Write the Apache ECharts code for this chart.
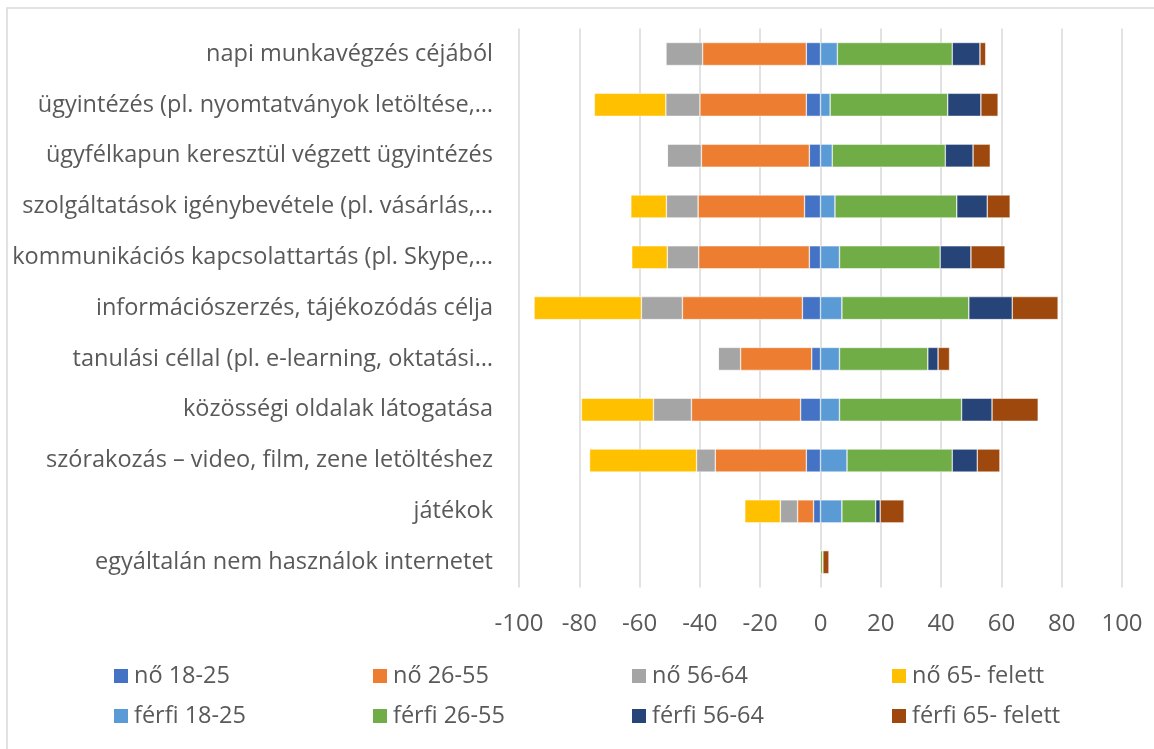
<!DOCTYPE html>
<html><head><meta charset="utf-8">
<script src="https://cdn.jsdelivr.net/npm/echarts@6/dist/echarts.min.js"></script>
<style>html,body{margin:0;padding:0;background:#fff}#c{width:1154px;height:749px}</style>
</head><body><div id="c"></div>
<script>
const categories = [
  'napi munkavégzés céjából',
  'ügyintézés (pl. nyomtatványok letöltése,…',
  'ügyfélkapun keresztül végzett ügyintézés',
  'szolgáltatások igénybevétele (pl. vásárlás,…',
  'kommunikációs kapcsolattartás (pl. Skype,…',
  'információszerzés, tájékozódás célja',
  'tanulási céllal (pl. e-learning, oktatási…',
  'közösségi oldalak látogatása',
  'szórakozás – video, film, zene letöltéshez',
  'játékok',
  'egyáltalán nem használok internetet'
];
const seriesNames = ['nő 18-25','nő 26-55','nő 56-64','nő 65- felett','férfi 18-25','férfi 26-55','férfi 56-64','férfi 65- felett'];
const no_18_25   = [-4.7, -4.7, -3.7, -5.3, -3.7, -6.0, -2.9, -6.6, -4.7, -2.3, 0];
const no_26_55   = [-34.4, -35.3, -35.8, -35.3, -36.7, -39.8, -23.6, -36.2, -30.2, -5.3, 0];
const no_56_64   = [-12.2, -11.3, -11.3, -10.5, -10.4, -13.6, -7.4, -12.6, -6.2, -5.7, 0];
const no_65      = [0, -23.7, 0, -11.8, -11.8, -35.6, 0, -23.9, -35.5, -11.8, 0];
const ferfi_18_25 = [5.6, 3.2, 3.9, 4.8, 6.3, 7.1, 6.3, 6.3, 8.8, 7.1, 0];
const ferfi_26_55 = [38.1, 39.0, 37.5, 40.4, 33.4, 42.1, 29.3, 40.5, 34.9, 11.2, 0.8];
const ferfi_56_64 = [9.2, 11.0, 9.2, 10.1, 10.2, 14.4, 3.4, 10.1, 8.3, 1.5, 0];
const ferfi_65    = [1.9, 5.7, 5.7, 7.6, 11.3, 15.2, 3.8, 15.3, 7.5, 7.9, 2.0];
const xTicks = [-100,-80,-60,-40,-20,0,20,40,60,80,100];
const colors = ['#4472C4','#ED7D31','#A5A5A5','#FFC000','#5B9BD5','#70AD47','#264478','#9E480E'];
const allData = [no_18_25,no_26_55,no_56_64,no_65,ferfi_18_25,ferfi_26_55,ferfi_56_64,ferfi_65];

const FONT = '"Open Sans"';
const chart = echarts.init(document.getElementById('c'));
const legendX = [112, 371, 630, 890];
const legendY = [664, 704];
const legends = seriesNames.map((n, i) => ({
  data: [n],
  left: legendX[i % 4],
  top: legendY[Math.floor(i / 4)],
  padding: 0,
  itemWidth: 16, itemHeight: 16, itemGap: 4,
  icon: 'rect',
  textStyle: { fontFamily: FONT, fontSize: 23.5, color: '#595959' },
  selectedMode: false
}));
chart.setOption({
  animation: false,
  color: colors,
  graphic: [{
    type: 'rect', shape: { x: 7, y: 8, width: 1160, height: 760 },
    style: { fill: 'none', stroke: '#d9d9d9', lineWidth: 1.5 }, silent: true, z: -1
  }],
  legend: legends,
  grid: { left: 519, right: 32, top: 28.6, height: 559, containLabel: false },
  xAxis: {
    type: 'value', min: -100, max: 100, interval: 20,
    axisLine: { show: false }, axisTick: { show: false },
    splitLine: { show: true, lineStyle: { color: '#d9d9d9', width: 1.5 } },
    axisLabel: { fontFamily: FONT, fontSize: 24, color: '#595959', margin: 25,
      formatter: v => xTicks.includes(v) ? String(v) : '' }
  },
  yAxis: {
    type: 'category', data: categories, inverse: true,
    axisLine: { show: false }, axisTick: { show: false },
    axisLabel: { fontFamily: FONT, fontSize: 23.5, color: '#595959', margin: 26 }
  },
  series: seriesNames.map((n, i) => ({
    name: n, type: 'bar', stack: 'total', barWidth: 23,
    data: allData[i],
    itemStyle: { color: colors[i], borderColor: '#ffffff', borderWidth: 0.5 }
  }))
});
</script></body></html>
